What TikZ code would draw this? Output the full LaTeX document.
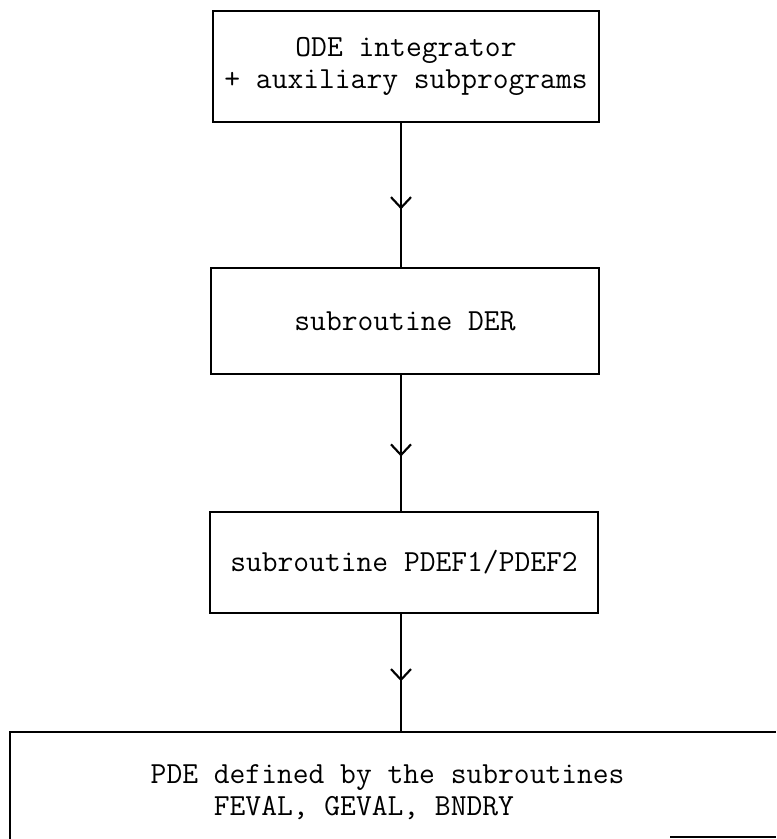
\documentclass[tikz,border=0pt]{standalone}
\usetikzlibrary{arrows.meta,decorations.markings}
\begin{document}
\begin{tikzpicture}[x=0.75pt,y=-0.75pt,
  every node/.style={font=\ttfamily\fontsize{23}{24}\selectfont},
  box/.style={draw, line width=1.6pt, rectangle, inner sep=0pt, align=center},
  edge/.style={line width=1.6pt},
  vmark/.style={decoration={markings, mark=at position #1 with {\arrow{Straight Barb[length=8pt,width=15pt,line width=1.6pt]}}}, postaction={decorate}}
]
\useasboundingbox (0,0) rectangle (776,839);
\node[box, minimum width=289.5pt, minimum height=83.25pt] (b1) at (406,66.5) {ODE integrator\\+ auxiliary subprograms};
\node[box, minimum width=291pt, minimum height=79.5pt] (b2) at (405,321) {subroutine DER};
\node[box, minimum width=291pt, minimum height=75.75pt] (b3) at (404,562.5) {subroutine PDEF1/PDEF2};
% bottom box (cut off at right and bottom)
\coordinate (bt) at (401,732);
\coordinate (btl) at (10,732);
\coordinate (btr) at (776,732);
\coordinate (bbl) at (10,839);
\coordinate (bbr1) at (670,837);
\coordinate (bbr2) at (776,837);
\draw[edge] (bbl) -- (btl) -- (btr);
\draw[edge] (bbr1) -- (bbr2);
\node[align=left, anchor=west] (b4) at (146,792) {PDE defined by the subroutines\\\phantom{PDE }FEVAL, GEVAL, BNDRY};
% connectors
\draw[edge, vmark=0.6] (b1.south -| bt) -- (b2.north -| bt);
\draw[edge, vmark=0.6] (b2.south -| bt) -- (b3.north -| bt);
\draw[edge, vmark=0.57] (b3.south -| bt) -- (bt);
\end{tikzpicture}
\end{document}
